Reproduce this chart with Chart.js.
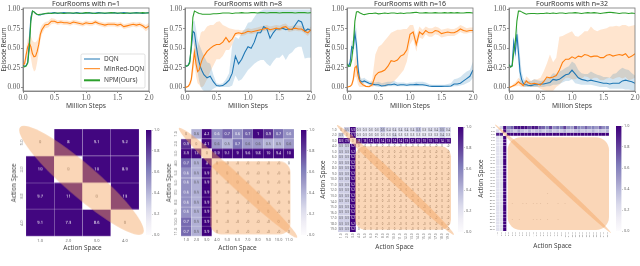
<!DOCTYPE html>
<html>
<head>
<meta charset="utf-8">
<script src="https://cdn.jsdelivr.net/npm/chart.js@4"></script>
<style>
    html, body { margin: 0; padding: 0; background: #fff; width: 640px; height: 266px; overflow: hidden; }
    canvas { position: absolute; }
</style>
</head>
<body>
<script>
// x grid of the learning curves, million steps
const steps = [0,.025,.05,.075,.1,.125,.15,.175,.2,.225,.25,.275,.3,
    .35,.4,.45,.5,.55,.6,.65,.7,.75,.8,
    .85,.9,.95,1,1.05,1.1,1.15,1.2,1.25,1.3,
    1.35,1.4,1.45,1.5,1.55,1.6,1.65,1.7,1.75,1.8,
    1.85,1.9,1.95,2];
const returnTicks = [0, .25, .5, .75, 1];
const stepTicks = [0, .5, 1, 1.5, 2];
const seriesNames = ['DQN', 'MinRed-DQN', 'NPM(Ours)'];

// n=1
const dqn1 = [.28,.27,.28,.32,.58,.90,.98,.97,.95,.935,.93,.93,.94,
    .945,.95,.955,.96,.95,.955,.96,.955,.955,.95,
    .96,.955,.95,.955,.96,.95,.955,.96,.955,.95,
    .955,.955,.96,.95,.955,.96,.955,.95,.955,.96,
    .955,.95,.955,.96];
const minred1 = [.29,.30,.42,.52,.57,.52,.43,.39,.40,.46,.55,.68,.74,
    .80,.81,.85,.85,.83,.84,.83,.83,.82,.84,
    .83,.82,.81,.83,.82,.82,.84,.82,.81,.80,
    .81,.81,.81,.80,.81,.78,.79,.80,.81,.80,
    .81,.79,.76,.79];
const minred1Lo = [.27,.27,.34,.42,.47,.38,.26,.20,.22,.32,.45,.60,.68,
    .76,.77,.81,.82,.80,.81,.80,.80,.79,.81,
    .80,.79,.78,.80,.79,.79,.81,.79,.78,.77,
    .78,.78,.78,.77,.78,.75,.76,.77,.78,.77,
    .78,.76,.72,.75];
const minred1Hi = [.31,.33,.50,.62,.67,.66,.60,.58,.58,.60,.65,.76,.80,
    .84,.85,.89,.88,.86,.87,.86,.86,.85,.87,
    .86,.85,.84,.86,.85,.85,.87,.85,.84,.83,
    .84,.84,.84,.83,.84,.81,.82,.83,.84,.83,
    .84,.82,.80,.83];
const npm1 = [.28,.26,.27,.31,.50,.85,.98,.97,.95,.94,.935,.94,.94,
    .95,.955,.95,.955,.955,.955,.95,.955,.955,.955,
    .955,.95,.955,.96,.955,.955,.95,.955,.955,.955,
    .955,.96,.955,.955,.955,.95,.955,.955,.955,.955,
    .955,.96,.955,.955];

// n=8
const dqn8 = [.28,.27,.28,.33,.50,.72,.70,.55,.42,.32,.25,.20,.16,
    .12,.14,.07,.02,.015,.02,.05,.09,.18,.40,
    .30,.36,.45,.52,.50,.58,.70,.70,.78,.75,
    .63,.70,.75,.75,.76,.74,.75,.74,.80,.86,
    .84,.72,.75,.73];
const dqn8Lo = [.27,.26,.27,.31,.44,.60,.52,.35,.20,.08,0,-.03,-.05,
    -.05,-.05,-.02,0,0,0,0,0,.02,.15,
    .08,.10,.16,.22,.26,.30,.33,.35,.35,.30,
    .27,.33,.38,.38,.42,.35,.42,.45,.50,.52,
    .52,.37,.38,.38];
const dqn8Hi = [.29,.28,.30,.35,.56,.84,.86,.75,.62,.55,.50,.45,.40,
    .32,.30,.16,.05,.04,.05,.10,.18,.55,.65,
    .62,.70,.75,.83,.84,.90,.96,.98,1,1,
    1,1,1,1,1,1,1,1,1,1,
    1,1,1,1];
const minred8 = [0,0,.01,.04,.10,.28,.45,.30,.20,.22,.30,.36,.40,
    .46,.50,.53,.55,.55,.58,.64,.58,.62,.69,
    .70,.69,.70,.72,.71,.72,.73,.74,.75,.76,
    .74,.75,.76,.75,.77,.78,.74,.75,.76,.75,
    .75,.72,.70,.74];
const minred8Lo = [0,0,0,.01,.05,.15,.30,.14,.05,.03,0,0,.02,
    .10,.20,.28,.36,.36,.40,.48,.48,.55,.66,
    .67,.66,.67,.69,.68,.69,.70,.71,.72,.73,
    .71,.72,.73,.72,.74,.75,.71,.72,.73,.72,
    .72,.69,.66,.71];
const minred8Hi = [0,.01,.02,.07,.15,.40,.60,.55,.50,.60,.70,.72,.72,
    .78,.80,.80,.84,.85,.80,.78,.76,.75,.74,
    .74,.73,.74,.76,.75,.76,.77,.78,.79,.80,
    .78,.79,.80,.79,.81,.82,.78,.79,.80,.79,
    .79,.76,.74,.78];
const npm8 = [.28,.27,.28,.31,.55,.90,.98,.97,.96,.95,.945,.94,.94,
    .94,.94,.945,.945,.95,.955,.955,.955,.95,.955,
    .955,.96,.955,.955,.96,.96,.955,.96,.96,.955,
    .96,.96,.96,.955,.96,.96,.96,.96,.955,.96,
    .96,.96,.955,.96];

// n=16
const dqn16 = [.30,.27,.32,.52,.50,.70,.55,.25,.09,.07,.07,.08,.07,
    .05,.04,.03,.03,.015,.02,.03,.03,.04,.025,
    .03,.03,.025,.03,.03,.035,.03,.03,.025,.015,
    .01,.01,.01,.01,.012,.012,.015,.04,.04,.05,
    .08,.11,.14,.22];
const dqn16Lo = [.28,.25,.28,.46,.42,.58,.38,.12,.05,.04,.04,.05,.05,
    .03,.02,.01,0,0,0,.01,.01,.01,.01,
    .01,.01,.01,.01,.01,.01,.01,.01,.01,.005,
    0,0,0,0,0,0,0,.01,.01,.02,
    .03,.05,.07,.12];
const dqn16Hi = [.32,.30,.38,.60,.60,.82,.75,.40,.14,.11,.11,.12,.10,
    .08,.07,.06,.07,.05,.06,.07,.07,.08,.06,
    .06,.06,.05,.06,.06,.07,.07,.07,.06,.04,
    .03,.03,.03,.03,.03,.04,.05,.10,.11,.13,
    .17,.20,.22,.33];
const minred16 = [0,.005,.01,.03,.10,.25,.27,.15,.08,.05,.03,.02,.01,
    .005,.03,.15,.19,.20,.22,.27,.34,.33,.35,
    .40,.42,.48,.68,.71,.55,.71,.68,.73,.70,
    .70,.73,.72,.69,.70,.71,.70,.70,.72,.75,
    .73,.72,.73,.73];
const minred16Lo = [0,0,0,.01,.05,.14,.12,.03,0,0,0,0,0,
    0,0,.02,.03,.02,0,.02,.05,.08,.12,
    .17,.22,.33,.55,.62,.46,.64,.62,.68,.65,
    .65,.68,.67,.64,.65,.66,.66,.66,.68,.71,
    .69,.69,.70,.70];
const minred16Hi = [0,.01,.02,.06,.16,.36,.42,.28,.17,.10,.06,.04,.02,
    .02,.10,.42,.52,.55,.60,.65,.70,.72,.74,
    .74,.75,.75,.80,.80,.66,.78,.74,.78,.76,
    .76,.78,.77,.74,.75,.76,.75,.75,.77,.80,
    .78,.76,.77,.77];
const npm16 = [.30,.27,.27,.35,.55,.85,.97,.975,.96,.95,.94,.935,.94,
    .95,.95,.955,.945,.95,.955,.95,.955,.955,.95,
    .955,.95,.955,.955,.96,.965,.955,.955,.96,.955,
    .955,.96,.955,.955,.96,.955,.96,.955,.96,.955,
    .955,.96,.96,.955];

// n=32
const dqn32 = [.29,.26,.28,.58,.45,.68,.45,.20,.10,.05,.03,.03,.025,
    .02,.03,.03,.04,.04,.05,.06,.10,.09,.10,
    .13,.16,.17,.22,.17,.12,.10,.09,.08,.09,
    .08,.07,.06,.05,.05,.04,.05,.05,.05,.08,
    .09,.08,.07,.05];
const dqn32Lo = [.28,.25,.26,.50,.36,.55,.28,.05,.02,.01,0,0,0,
    0,0,0,0,0,.01,.01,.03,.03,.04,
    .06,.08,.08,.10,.05,.04,.03,.03,.03,.03,
    .02,.01,0,0,0,-.02,-.02,-.02,-.02,-.02,
    -.03,-.03,-.04,-.05];
const dqn32Hi = [.30,.27,.30,.66,.54,.80,.65,.40,.20,.12,.09,.09,.08,
    .08,.10,.09,.08,.09,.12,.13,.18,.17,.20,
    .22,.25,.27,.33,.30,.22,.18,.17,.17,.20,
    .18,.16,.15,.13,.13,.12,.17,.18,.22,.25,
    .23,.22,.18,.15];
const minred32 = [0,0,.01,.02,.03,.05,.07,.05,.04,.02,.05,.08,.06,
    .04,.05,.04,.03,.07,.13,.12,.13,.15,.22,
    .32,.36,.36,.39,.37,.40,.39,.42,.41,.39,
    .40,.40,.38,.38,.41,.42,.40,.41,.42,.41,
    .43,.38,.40,.43];
const minred32Lo = [0,0,0,0,.01,.01,.02,.01,0,0,0,.01,0,
    0,0,0,-.02,-.04,-.05,-.05,-.05,0,.03,
    .08,.12,.12,.10,.10,.12,.10,.14,.13,.10,
    .12,.12,.09,.09,.11,.12,.10,.12,.13,.11,
    .13,.09,.10,.12];
const minred32Hi = [0,.01,.02,.05,.06,.09,.12,.10,.08,.05,.09,.14,.12,
    .08,.10,.10,.12,.20,.30,.42,.32,.38,.65,
    .66,.68,.70,.72,.66,.65,.68,.72,.72,.78,
    .74,.72,.74,.75,.76,.78,.78,.79,.78,.80,
    .80,.78,.79,.80];
const npm32 = [.29,.26,.27,.45,.58,.85,.98,.98,.97,.96,.95,.94,.945,
    .95,.95,.945,.95,.95,.955,.95,.955,.95,.955,
    .955,.95,.955,.955,.96,.955,.95,.955,.96,.955,
    .96,.955,.95,.955,.96,.965,.96,.955,.95,.955,
    .955,.95,.955,.95];

// heatmap axis labels
const actions4 = ['1.0','2.0','3.0','4.0'];
const actions11 = ['1.0','2.0','3.0','4.0','5.0','6.0','7.0','8.0','9.0','10.0','11.0'];
const actions19 = ['1.0','2.0','3.0','4.0','5.0','6.0','7.0','8.0','9.0','10.0','11.0','12.0','13.0','14.0','15.0','16.0','17.0','18.0','19.0'];
const actions32 = ['1.0','2.0','3.0','4.0','5.0','6.0','7.0','8.0','9.0','10.0','11.0','12.0','13.0','14.0','15.0','16.0',
    '17.0','18.0','19.0','20.0','21.0','22.0','23.0','24.0','25.0','26.0','27.0','28.0','29.0','30.0','31.0','32.0'];
const colorbarTicks = [0, .2, .4, .6, .8, 1];

// heatmap n=4 (cell shade, printed value)
const shade4 = [[0,.98,.98,.98],[.98,0,.98,.98],[.98,.98,0,.98],[.98,.98,.98,0]];
const text4 = [['0','8','9.1','9.2'],['10','0','10','8.9'],['9.7','11','0','13'],['9.1','7.3','8.6','0']];

// heatmap n=11
const shade11 = [
    [0,.42,.98,.55,.7,.55,.7,.98,.85,.68,.55],
    [.85,0,.98,.5,.4,.65,.5,.5,.4,.4,.5],
    [.98,.98,0,.98,.98,.98,.98,.98,.98,.98,.98],
    [.68,.42,1,0,0,0,0,0,0,0,0],
    [.55,.42,1,0,0,0,0,0,0,0,0],
    [.55,.42,1,0,0,0,0,0,0,0,0],
    [.55,.42,1,0,0,0,0,0,0,0,0],
    [.55,.42,1,0,0,0,0,0,0,0,0],
    [.55,.42,1,0,0,0,0,0,0,0,0],
    [.68,.42,1,0,0,0,0,0,0,0,0],
    [.68,.42,1,0,0,0,0,0,0,0,0]];
const text11 = [
    ['0','0.6','4.2','0.6','0.7','0.6','0.7','1','0.9','0.7','0.6'],
    ['0.9','0','4.1','0.6','0.5','0.7','0.6','0.6','0.5','0.5','0.6'],
    ['3.9','12','0','9.9','9.1','9','9.6','9.8','10','9.4','10'],
    ['0.7','0.5','4','0','-0','-0','-0','-0','-0','-0','0'],
    ['0.6','0.5','3.9','0','0','-0','-0','-0','0','-0','0'],
    ['0.6','0.5','3.9','0','-0','0','-0','-0','0','-0','0'],
    ['0.6','0.5','3.9','0','-0','-0','0','-0','-0','-0','0'],
    ['0.6','0.5','3.9','0','-0','-0','-0','0','-0','-0','0'],
    ['0.6','0.5','3.9','0','-0','-0','-0','-0','0','-0','0'],
    ['0.7','0.5','3.9','0','-0','-0','-0','-0','-0','0','0'],
    ['0.7','0.5','3.9','0','-0','-0','-0','-0','-0','-0','0']];

// heatmap n=19: first three rows differ, the rest read the same
const shade19Rows = [
    [0,.3,.98,.22,.22,.22,.22,.38,.26,.26,.26,.26,.26,.36,.22,.26,.26,.38,.26],
    [.28,0,.98,.18,.18,.18,.18,.18,.18,.28,.18,.18,.18,.18,.18,.18,.18,.28,.18],
    [.98,.98,0,.98,.98,.98,.98,.98,.98,.98,.98,.98,.98,.98,.98,.98,.98,.98,.98]];
const shade19Lower = [.3,.3,1,0,0,0,0,0,0,0,0,0,0,0,0,0,0,0,0];
const text19Rows = [
    ['0','0.5','5.3','0.3','0.3','0.3','0.3','0.5','0.4','0.4','0.4','0.4','0.4','0.5','0.3','0.4','0.4','0.5','0.4'],
    ['0.3','0','5.1','0.3','0.3','0.3','0.3','0.3','0.3','0.4','0.3','0.3','0.3','0.3','0.3','0.3','0.3','0.4','0.3'],
    ['8.3','7.9','0','13','13','14','13','14','13','14','14','13','12','13','13','13','13','14','13']];
const text19Lower = ['0.3','0.3','5.2','0','-0','0','-0','0','-0','0','-0','0','-0','0','-0','0','-0','0','-0'];

// heatmap n=32
const shade32Rows = [
    [0,.28,.98,.6,.7,.9,.95,.95,.95,.8,.95,.9,.75,.7,.6,.8,.55,.65,.6,.8,.55,.5,.75,.6,.55,.7,.55,.6,.5,.7,.55,.6],
    [.22,0,.98,.45,.4,.3,.45,.35,.3,.4,.3,.35,.4,.3,.35,.4,.3,.35,.3,.4,.3,.3,.35,.4,.3,.35,.3,.4,.3,.35,.3,.4],
    [.9,.9,0,1,1,1,1,1,1,1,1,1,1,1,1,1,1,1,1,1,1,1,1,1,1,1,1,1,1,1,1,1]];
const shade32Lower = [.2,.2,1,0,0,0,0,0,0,0,0,0,0,0,0,0,0,0,0,0,0,0,0,0,0,0,0,0,0,0,0,0];
const faintCells32 = { 20: [14], 23: [4,7,8,10,11,12,14,17,19], 28: [4,6,10,11,12,14,17] };

const BLUE = '#1f77b4', ORANGE = '#ff7f0e', GREEN = '#2ca02c';
const SANS = '"Noto Sans", sans-serif';
const SERIF = '"Liberation Serif", serif';
const PURPLES = ['#fcfbfd','#efedf5','#dadaeb','#bcbddc','#9e9ac8','#807dba','#6a51a3','#54278f','#3f007d'];

function rgb(hex) {
    return [1, 3, 5].map(i => parseInt(hex.slice(i, i + 2), 16));
}

function purple(v) {
    if (v <= 0) return '#ffffff';
    const p = Math.min(v, 1) * (PURPLES.length - 1);
    const i = Math.min(Math.floor(p), PURPLES.length - 2);
    const a = rgb(PURPLES[i]), b = rgb(PURPLES[i + 1]), t = p - i;
    return 'rgb(' + a.map((c, k) => Math.round(c + (b[k] - c) * t)).join(',') + ')';
}

function addCanvas(left, top, width, height) {
    const c = document.createElement('canvas');
    c.width = width;
    c.height = height;
    c.style.left = left + 'px';
    c.style.top = top + 'px';
    c.style.width = width + 'px';
    c.style.height = height + 'px';
    document.body.appendChild(c);
    return c;
}

// top and right spines
const framePlugin = {
    id: 'frame',
    afterDraw(chart) {
        const a = chart.chartArea, ctx = chart.ctx;
        ctx.save();
        ctx.strokeStyle = '#777';
        ctx.lineWidth = 0.8;
        ctx.strokeRect(a.left, a.top, a.right - a.left, a.bottom - a.top);
        ctx.restore();
    }
};

const legendPlugin = {
    id: 'boxLegend',
    afterDraw(chart) {
        const ctx = chart.ctx, a = chart.chartArea;
        const colors = [BLUE, ORANGE, GREEN], widths = [1, 1, 2], rows = [51, 60.7, 72.3];
        ctx.save();
        ctx.fillStyle = 'rgba(255,255,255,.85)';
        ctx.strokeStyle = '#ccc';
        ctx.lineWidth = 0.6;
        ctx.beginPath();
        ctx.roundRect(a.left + 58, a.top + 46, 64, 34, 1.5);
        ctx.fill();
        ctx.stroke();
        ctx.font = '6.5px ' + SANS;
        ctx.textBaseline = 'middle';
        seriesNames.forEach((name, i) => {
            ctx.strokeStyle = colors[i];
            ctx.lineWidth = widths[i];
            ctx.beginPath();
            ctx.moveTo(a.left + 61, a.top + rows[i]);
            ctx.lineTo(a.left + 77, a.top + rows[i]);
            ctx.stroke();
            ctx.fillStyle = '#444';
            ctx.fillText(name, a.left + 81, a.top + rows[i]);
        });
        ctx.restore();
    }
};

function curveChart(plotLeft, title, lines, bands, withLegend) {
    const yWidth = 22, canvas = addCanvas(plotLeft - yWidth, 0, yWidth + 126 + 7, 110);
    const xy = ys => ys.map((y, i) => ({ x: steps[i], y: y }));
    const datasets = [];
    bands.forEach((b, i) => {
        datasets.push({ data: xy(b.lo), borderWidth: 0, pointRadius: 0, fill: false, order: 10 + i });
        datasets.push({ data: xy(b.hi), borderWidth: 0, pointRadius: 0, fill: '-1', backgroundColor: b.color, order: 10 + i });
    });
    lines.forEach((l, i) => {
        datasets.push({ label: seriesNames[i], data: xy(l.y), borderColor: l.color, borderWidth: 1.1, pointRadius: 0, fill: false, order: 5 - i });
    });
    new Chart(canvas, {
        type: 'line',
        data: { datasets: datasets },
        plugins: withLegend ? [framePlugin, legendPlugin] : [framePlugin],
        options: {
            responsive: false,
            animation: false,
            events: [],
            devicePixelRatio: 1,
            layout: { padding: { right: 7 } },
            plugins: {
                legend: { display: false },
                tooltip: { enabled: false },
                title: {
                    display: true, text: title, fullSize: false, color: '#333',
                    font: { family: SANS, size: 7, weight: 'normal', lineHeight: 1 },
                    padding: { top: 0, bottom: 1 }
                }
            },
            scales: {
                x: {
                    type: 'linear', min: 0, max: 2,
                    afterBuildTicks: s => { s.ticks = stepTicks.map(v => ({ value: v })); },
                    afterFit: s => { s.height = 19; },
                    grid: { drawOnChartArea: false, tickLength: 2, color: '#777', lineWidth: 0.8 },
                    border: { color: '#777', width: 0.8 },
                    ticks: { color: '#555', padding: 1, maxRotation: 0, font: { family: SERIF, size: 7.2 }, callback: v => v.toFixed(1) },
                    title: { display: true, text: 'Million Steps', color: '#444', padding: 0, font: { family: SANS, size: 6.7 } }
                },
                y: {
                    type: 'linear', min: -0.05, max: 1.02,
                    afterBuildTicks: s => { s.ticks = returnTicks.map(v => ({ value: v })); },
                    afterFit: s => { s.width = yWidth; },
                    grid: { drawOnChartArea: false, tickLength: 2, color: '#777', lineWidth: 0.8 },
                    border: { color: '#777', width: 0.8 },
                    ticks: { color: '#555', padding: 1, font: { family: SERIF, size: 7.2 }, callback: v => v.toFixed(2) },
                    title: { display: true, text: 'Episode Return', color: '#444', padding: 0, font: { family: SANS, size: 6.2 } }
                }
            }
        }
    });
}

// cell values printed in the cells, under the orange overlay
const annotPlugin = {
    id: 'annot',
    afterDatasetsDraw(chart) {
        const cfg = chart.options.plugins.annot, ctx = chart.ctx;
        ctx.save();
        ctx.font = cfg.size + 'px ' + SANS;
        ctx.textAlign = 'center';
        ctx.textBaseline = 'middle';
        cfg.text.forEach((row, r) => {
            const bars = chart.getDatasetMeta(r).data;
            row.forEach((t, c) => {
                if (!t) return;
                const p = bars[c].getCenterPoint();
                ctx.fillStyle = cfg.shade[r][c] > .5 ? '#fff' : cfg.ink;
                ctx.fillText(t, p.x, p.y);
            });
        });
        ctx.restore();
    }
};

// orange marks laid over the heatmap, given in cell units
const overlayPlugin = {
    id: 'overlay',
    afterDatasetsDraw(chart) {
        const cfg = chart.options.plugins.overlay, ctx = chart.ctx;
        const px = c => chart.scales.x.getPixelForValue(c - 0.5);
        const py = c => chart.scales.y.getPixelForValue(c);
        ctx.save();
        ctx.fillStyle = 'rgba(244,164,96,.45)';
        if (cfg.box) {
            ctx.beginPath();
            ctx.roundRect(px(cfg.box.left), py(cfg.box.top), px(cfg.box.right) - px(cfg.box.left), py(cfg.box.bottom) - py(cfg.box.top), cfg.box.radius);
            ctx.fill();
        }
        const x0 = px(cfg.diag.x0), y0 = py(cfg.diag.y0), x1 = px(cfg.diag.x1), y1 = py(cfg.diag.y1);
        ctx.beginPath();
        ctx.ellipse((x0 + x1) / 2, (y0 + y1) / 2, Math.hypot(x1 - x0, y1 - y0) / 2, cfg.diag.semi, Math.atan2(y1 - y0, x1 - x0), 0, Math.PI * 2);
        ctx.fill();
        ctx.restore();
    }
};

function heatChart(p) {
    const padTop = 8, padRight = 5, n = p.labels.length;
    const canvas = addCanvas(p.left - p.yWidth, p.top - padTop, p.yWidth + p.width + padRight, padTop + p.height + p.xHeight);
    const datasets = p.shade.map((row, r) => ({
        data: row.map(() => [r, r + 1]),
        backgroundColor: row.map(purple),
        borderColor: 'rgba(255,255,255,.12)',
        borderWidth: 0.4,
        grouped: false,
        barPercentage: 1,
        categoryPercentage: 1
    }));
    new Chart(canvas, {
        type: 'bar',
        data: { labels: p.labels, datasets: datasets },
        plugins: [annotPlugin, overlayPlugin],
        options: {
            responsive: false,
            animation: false,
            events: [],
            devicePixelRatio: 1,
            layout: { padding: { top: padTop, right: padRight } },
            plugins: {
                legend: { display: false },
                tooltip: { enabled: false },
                annot: { text: p.text, shade: p.shade, size: p.cellFont, ink: p.ink || '#555' },
                overlay: { box: p.box, diag: p.diag }
            },
            scales: {
                x: {
                    type: 'category',
                    afterFit: s => { s.height = p.xHeight; },
                    grid: { display: false, drawTicks: false },
                    border: { display: false },
                    ticks: { color: '#666', padding: 1.5, autoSkip: false, minRotation: p.xRotation, maxRotation: p.xRotation, font: { family: SANS, size: p.tickFont } },
                    title: { display: true, text: 'Action Space', color: '#444', padding: 0, font: { family: SANS, size: 6.4 } }
                },
                y: {
                    type: 'linear', min: 0, max: n, reverse: true,
                    afterBuildTicks: s => { s.ticks = p.labels.map((l, i) => ({ value: i + .5 })); },
                    afterFit: s => { s.width = p.yWidth; },
                    grid: { display: false, drawTicks: false },
                    border: { display: false },
                    ticks: { color: '#666', padding: 1.5, autoSkip: false, crossAlign: p.yRotation ? 'center' : 'near', minRotation: p.yRotation, maxRotation: p.yRotation, font: { family: SANS, size: p.tickFont }, callback: (v, i) => p.labels[i] },
                    title: { display: true, text: 'Action Space', color: '#444', padding: 0, font: { family: SANS, size: 6.4 } }
                }
            }
        }
    });
}

function colorbar(left, top, height) {
    const pad = 4, canvas = addCanvas(left, top - pad, 18, height + 2 * pad);
    new Chart(canvas, {
        type: 'bar',
        data: {
            labels: [''],
            datasets: [{
                data: [[0, 1]],
                barPercentage: 1,
                categoryPercentage: 1,
                backgroundColor: ctx => {
                    const a = ctx.chart.chartArea;
                    if (!a) return PURPLES[8];
                    const g = ctx.chart.ctx.createLinearGradient(0, a.bottom, 0, a.top);
                    PURPLES.forEach((c, i) => g.addColorStop(i / (PURPLES.length - 1), c));
                    return g;
                }
            }]
        },
        options: {
            responsive: false,
            animation: false,
            events: [],
            devicePixelRatio: 1,
            layout: { padding: { top: pad, bottom: pad } },
            plugins: { legend: { display: false }, tooltip: { enabled: false } },
            scales: {
                x: { display: false },
                y: {
                    position: 'right', min: 0, max: 1,
                    afterBuildTicks: s => { s.ticks = colorbarTicks.map(v => ({ value: v })); },
                    afterFit: s => { s.width = 12.5; },
                    grid: { drawOnChartArea: false, tickLength: 1.5, color: '#999', lineWidth: 0.5 },
                    border: { display: false },
                    ticks: { color: '#666', padding: 1, font: { family: SANS, size: 3.8 }, callback: v => v.toFixed(1) }
                }
            }
        }
    });
}

const blueBand = 'rgba(31,119,180,.2)', orangeBand = 'rgba(255,127,14,.2)';

curveChart(23, 'FourRooms with n=1',
    [{ color: BLUE, y: dqn1 }, { color: ORANGE, y: minred1 }, { color: GREEN, y: npm1 }],
    [{ color: orangeBand, lo: minred1Lo, hi: minred1Hi }], true);
curveChart(185, 'FourRooms with n=8',
    [{ color: BLUE, y: dqn8 }, { color: ORANGE, y: minred8 }, { color: GREEN, y: npm8 }],
    [{ color: blueBand, lo: dqn8Lo, hi: dqn8Hi }, { color: orangeBand, lo: minred8Lo, hi: minred8Hi }], false);
curveChart(347, 'FourRooms with n=16',
    [{ color: BLUE, y: dqn16 }, { color: ORANGE, y: minred16 }, { color: GREEN, y: npm16 }],
    [{ color: blueBand, lo: dqn16Lo, hi: dqn16Hi }, { color: orangeBand, lo: minred16Lo, hi: minred16Hi }], false);
curveChart(509, 'FourRooms with n=32',
    [{ color: BLUE, y: dqn32 }, { color: ORANGE, y: minred32 }, { color: GREEN, y: npm32 }],
    [{ color: blueBand, lo: dqn32Lo, hi: dqn32Hi }, { color: orangeBand, lo: minred32Lo, hi: minred32Hi }], false);

const shade19 = shade19Rows.concat(actions19.slice(3).map(() => shade19Lower));
const text19 = text19Rows.concat(actions19.slice(3).map(() => text19Lower));
const shade32 = shade32Rows.concat(actions32.slice(3).map(() => shade32Lower));
const text32 = actions32.map((_, r) => actions32.map((_, c) => (faintCells32[r] || []).includes(c) ? '-0' : ''));

heatChart({ left: 26, top: 129, width: 113, height: 107, yWidth: 16, xHeight: 15.5, labels: actions4, shade: shade4, text: text4,
    cellFont: 4, tickFont: 4, xRotation: 0, yRotation: 90,
    diag: { x0: -.21, y0: -.07, x1: 4.14, y1: 3.89, semi: 16 } });
heatChart({ left: 181, top: 129, width: 113, height: 107, yWidth: 16, xHeight: 15.5, labels: actions11, shade: shade11, text: text11,
    cellFont: 3.7, tickFont: 3.8, xRotation: 0, yRotation: 90,
    box: { left: 2.85, right: 10.65, top: 3.3, bottom: 10.8, radius: 11 },
    diag: { x0: -.2, y0: -.1, x1: 11.3, y1: 11.1, semi: 6.5 } });
heatChart({ left: 338, top: 127, width: 113, height: 105, yWidth: 19, xHeight: 19, labels: actions19, shade: shade19, text: text19,
    cellFont: 2.8, tickFont: 3.2, xRotation: 90, yRotation: 0,
    box: { left: 2.87, right: 19, top: 3.5, bottom: 18.6, radius: 10 },
    diag: { x0: -.17, y0: -.36, x1: 19.5, y1: 19.5, semi: 4.2 } });
heatChart({ left: 496, top: 125.5, width: 113, height: 105.5, yWidth: 19, xHeight: 19, labels: actions32, shade: shade32, text: text32,
    cellFont: 2, tickFont: 2.4, xRotation: 90, yRotation: 0, ink: 'rgba(120,110,110,.45)',
    box: { left: 3.3, right: 32, top: 3.4, bottom: 31.7, radius: 13 },
    diag: { x0: -.3, y0: -.45, x1: 32.6, y1: 32.6, semi: 2.5 } });

colorbar(146, 130, 105);
colorbar(301, 130, 105);
colorbar(458, 127, 105);
colorbar(616, 126, 105);
</script>
</body>
</html>
